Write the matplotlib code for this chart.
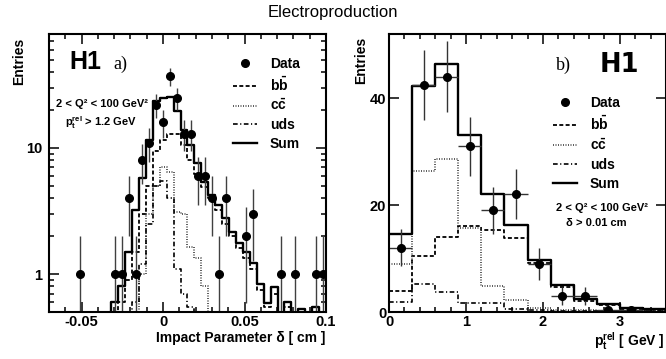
import numpy as np
import matplotlib
matplotlib.use("Agg")
import matplotlib.pyplot as plt
from matplotlib.ticker import MultipleLocator, LogLocator, NullFormatter

plt.rcParams['font.family'] = ['Liberation Sans', 'DejaVu Sans']
plt.rcParams['font.weight'] = 'bold'
plt.rcParams['axes.labelweight'] = 'bold'
plt.rcParams['mathtext.fontset'] = 'custom'
plt.rcParams['mathtext.rm'] = 'Liberation Sans:bold'
plt.rcParams['mathtext.it'] = 'Liberation Sans:bold'
plt.rcParams['mathtext.bf'] = 'Liberation Sans:bold'

# a) impact parameter, 40 bins from -0.07 to 0.1 cm
a_range = (-0.07, 0.1)
a_data = [0, 0, 0, 0, 1, 0, 0, 0, 0, 1,
          1, 4, 1, 8, 11, 22, 16, 37, 25, 13,
          13, 6, 6, 4, 1, 4, 0, 0, 2, 3,
          0, 0, 0, 1, 0, 1, 0, 0, 1, 1]
a_sum = [0, 0, 0, 0, 0, 0, 0, 0, 0, 0.6,
         0.8, 1.5, 3.2, 5.75, 11.5, 23.5, 25, 25.5, 19.5, 13.9,
         10.5, 7.55, 5.4, 4.24, 3.53, 2.77, 2.17, 1.75, 1.5, 1.22,
         0.84, 0.59, 0.79, 0, 0.6, 0, 0.53, 0, 0.55, 0]
a_bb = [0, 0, 0, 0, 0, 0, 0, 0, 0, 0.45,
        0.6, 0.9, 1.5, 3.0, 5.0, 9.5, 11.5, 13, 13, 10.6,
        8.0, 6.2, 4.9, 4.0, 3.2, 2.5, 2.0, 1.6, 1.35, 1.1,
        0.75, 0.55, 0.7, 0, 0.55, 0, 0.5, 0, 0.5, 0]
a_cc = [0, 0, 0, 0, 0, 0, 0, 0, 0, 0,
        0, 0, 0.5, 1.0, 3.0, 5.0, 7.0, 6.5, 3.1, 3.0,
        1.65, 1.35, 0.8, 0, 0, 0, 0, 0, 0, 0,
        0, 0, 0, 0, 0, 0, 0, 0, 0, 0]
a_uds = [0, 0, 0, 0, 0, 0, 0, 0, 0, 0,
         0, 0, 0.6, 1.2, 2.5, 5.0, 5.5, 4.0, 1.1, 0.7,
         0.55, 0, 0, 0, 0, 0, 0, 0, 0, 0,
         0, 0, 0, 0, 0, 0, 0, 0, 0, 0]
a_xticks = [-0.05, 0, 0.05, 0.1]
a_xticklabels = ['-0.05', '0', '0.05', '0.1']
a_yticks = [1, 10]

# b) p_t^rel, 0.3 GeV bins
b_edges = [0, 0.3, 0.6, 0.9, 1.2, 1.5, 1.8, 2.1, 2.4, 2.7, 3.0, 3.3, 3.6]
b_data = [12, 42.5, 44, 31, 19, 22, 9, 3, 3, 0.4, 0.3]
b_sum = [14.6, 42.2, 46.4, 33.1, 22.0, 16.2, 9.8, 5.0, 2.4, 1.5, 0.8, 0.5]
b_bb = [3.9, 10.5, 14.1, 16.0, 15.4, 13.8, 9.1, 4.6, 2.0, 1.3, 0.6, 0.4]
b_cc = [8.9, 26.3, 28.6, 15.8, 4.9, 2.3, 0.7, 0.4, 0.3, 0.2, 0.1, 0.1]
b_uds = [1.8, 5.3, 3.7, 1.7, 1.6, 0.5, 0.3, 0.2, 0.1, 0.1, 0.1, 0.1]
b_xticks = [0, 1, 2, 3]
b_yticks = [0, 20, 40]

labels = ['Data', r'$\mathbf{b}\bar{\mathbf{b}}$', r'$\mathbf{c}\bar{\mathbf{c}}$', 'uds', 'Sum']

sty_bb = dict(color='k', lw=1.3, ls=(0, (2.2, 1.3)))
sty_cc = dict(color='0.25', lw=1.2, ls=(0, (0.6, 0.9)))
sty_uds = dict(color='k', lw=1.2, ls=(0, (2.8, 1.5, 0.7, 1.5)))
sty_sum = dict(color='k', lw=1.7, ls='-')


def hstep(ax, edges, vals, floor, **kw):
    v = np.asarray(vals, dtype=float)
    v = np.where(v > 0, v, floor)
    return ax.step(edges, np.append(v, v[-1]), where='post', **kw)[0]


def frame(ax):
    for s in ax.spines.values():
        s.set_linewidth(1.5)
    ax.tick_params(which='both', direction='in', top=True, right=True,
                   width=1.1, labelsize=10.5)
    ax.tick_params(which='major', length=7)
    ax.tick_params(which='minor', length=3.5)


fig = plt.figure(figsize=(6.66, 3.59), dpi=100)
fig.text(0.5, 1 - 12 / 359, 'Electroproduction', ha='center', va='center',
         fontsize=12, fontweight='normal')

# ---------------- panel a
ax = fig.add_axes([49 / 666, 47 / 359, 277 / 666, 278 / 359])
a_edges = np.linspace(a_range[0], a_range[1], len(a_sum) + 1)
a_cent = 0.5 * (a_edges[:-1] + a_edges[1:])
hb = hstep(ax, a_edges, a_bb, 1e-3, **sty_bb)
hc = hstep(ax, a_edges, a_cc, 1e-3, **sty_cc)
hu = hstep(ax, a_edges, a_uds, 1e-3, **sty_uds)
hs = hstep(ax, a_edges, a_sum, 1e-3, **sty_sum)

d = np.asarray(a_data, dtype=float)
m = d > 0
err = np.sqrt(d[m])
ax.errorbar(a_cent[m], d[m], yerr=[np.minimum(err, d[m] * 0.999), err],
            fmt='none', ecolor='0.25', elinewidth=1.0)
hd, = ax.plot(a_cent[m], d[m], 'o', color='k', ms=5.5)

ax.set_yscale('log')
ax.set_xlim(a_range)
ax.set_ylim(0.5, 80)
ax.set_xticks(a_xticks)
ax.set_xticklabels(a_xticklabels)
ax.xaxis.set_minor_locator(MultipleLocator(0.01))
ax.set_yticks(a_yticks)
ax.set_yticklabels([str(t) for t in a_yticks])
ax.yaxis.set_minor_locator(LogLocator(subs=np.arange(2, 10)))
ax.yaxis.set_minor_formatter(NullFormatter())
frame(ax)
ax.tick_params(axis='y', pad=5)
ax.tick_params(axis='x', pad=2.5)

ax.set_ylabel('Entries', fontsize=10, fontweight='bold', loc='top')
ax.yaxis.set_label_coords(-0.083, 0.986)
ax.set_xlabel('Impact Parameter δ [ cm ]', fontsize=10, fontweight='bold',
              loc='right')
ax.xaxis.set_label_coords(0.996, -0.07)

ax.legend([hd, hb, hc, hu, hs], labels, loc='upper left',
          bbox_to_anchor=(0.664, 0.917), frameon=False, fontsize=10,
          handlelength=1.75, handletextpad=0.9, labelspacing=0.33,
          borderpad=0, borderaxespad=0)
ax.text(0.13, 0.899, 'H1', transform=ax.transAxes, ha='center', va='center',
        fontsize=18)
ax.text(0.256, 0.892, 'a)', transform=ax.transAxes, ha='center', va='center',
        fontsize=13, fontweight='normal', family='Liberation Serif')
ax.text(0.193, 0.748, '2 < Q² < 100 GeV²', transform=ax.transAxes,
        ha='center', va='center', fontsize=8)
ax.text(0.188, 0.68, r'$\mathbf{p_t^{rel}}$ > 1.2 GeV', transform=ax.transAxes,
        ha='center', va='center', fontsize=8)

# ---------------- panel b
bx = fig.add_axes([389 / 666, 47 / 359, 277 / 666, 278 / 359])
b_cent = 0.5 * (np.asarray(b_edges[:-1]) + np.asarray(b_edges[1:]))
gb = hstep(bx, b_edges, b_bb, 0, **sty_bb)
gc = hstep(bx, b_edges, b_cc, 0, **sty_cc)
gu = hstep(bx, b_edges, b_uds, 0, **sty_uds)
gs = hstep(bx, b_edges, b_sum, 0, **sty_sum)

bd = np.asarray(b_data, dtype=float)
bxc = b_cent[:len(bd)]
bx.errorbar(bxc, bd, xerr=0.15, yerr=np.sqrt(bd), fmt='none', ecolor='0.2',
            elinewidth=1.0)
gd, = bx.plot(bxc, bd, 'o', color='k', ms=5.5)

bx.set_xlim(b_edges[0], b_edges[-1])
bx.set_ylim(0, 52)
bx.set_xticks(b_xticks)
bx.set_xticklabels([str(t) for t in b_xticks])
bx.xaxis.set_minor_locator(MultipleLocator(0.2))
bx.set_yticks(b_yticks)
bx.set_yticklabels([str(t) for t in b_yticks])
frame(bx)
bx.tick_params(axis='y', pad=2)
bx.tick_params(axis='x', pad=2.5)

bx.set_ylabel('Entries', fontsize=10, fontweight='bold', loc='top')
bx.yaxis.set_label_coords(-0.076, 0.99)
bx.set_xlabel(r'$\mathbf{p_t^{rel}}$ [ GeV ]', fontsize=10, fontweight='bold',
              loc='right')
bx.xaxis.set_label_coords(0.996, -0.066)

bx.legend([gd, gb, gc, gu, gs], labels, loc='upper left',
          bbox_to_anchor=(0.592, 0.778), frameon=False, fontsize=10,
          handlelength=1.75, handletextpad=0.9, labelspacing=0.36,
          borderpad=0, borderaxespad=0)
bx.text(0.628, 0.888, 'b)', transform=bx.transAxes, ha='center', va='center',
        fontsize=13, fontweight='normal', family='Liberation Serif')
bx.text(0.83, 0.888, 'H1', transform=bx.transAxes, ha='center', va='center',
        fontsize=18.5, family='DejaVu Sans')
bx.text(0.769, 0.374, '2 < Q² < 100 GeV²', transform=bx.transAxes,
        ha='center', va='center', fontsize=8)
bx.text(0.747, 0.32, 'δ > 0.01 cm', transform=bx.transAxes,
        ha='center', va='center', fontsize=8)

fig.savefig('out.png', dpi=100)
